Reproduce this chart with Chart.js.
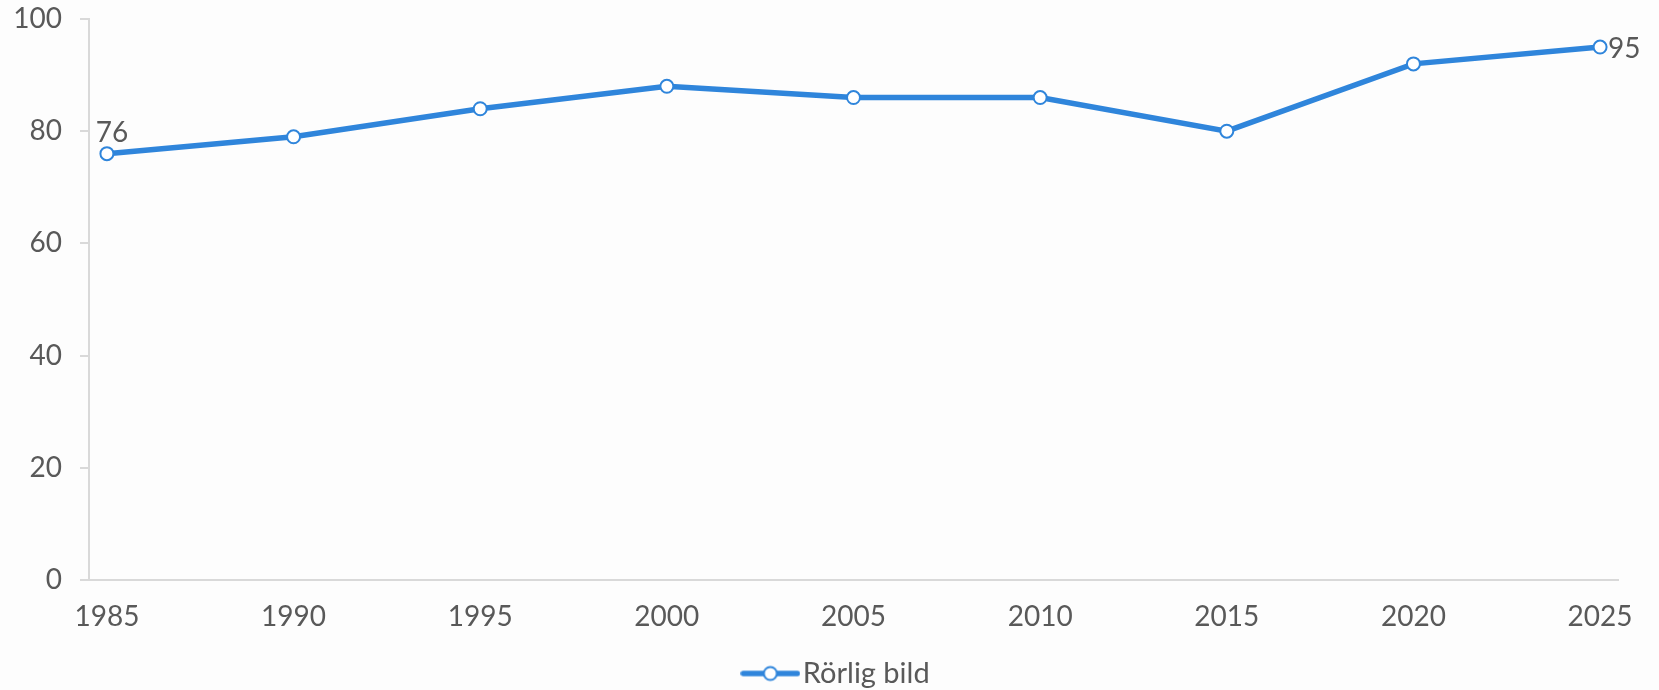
<!DOCTYPE html>
<html>
<head>
<meta charset="utf-8">
<script src="https://cdn.jsdelivr.net/npm/chart.js@4"></script>
<style>
  html, body { margin: 0; padding: 0; background: #fdfdfd; }
  #wrap { width: 1659px; height: 690px; }
</style>
</head>
<body>
<div id="wrap"><canvas id="chart"></canvas></div>
<script>
// Series data
var years = [1985, 1990, 1995, 2000, 2005, 2010, 2015, 2020, 2025];
var rorligBild = [76, 79, 84, 88, 86, 86, 80, 92, 95];
var yTicks = [0, 20, 40, 60, 80, 100];
var seriesName = 'Rörlig bild';

var blue = '#2F85DB';
var textColor = '#595959';
var axisColor = '#d9d9d9';
var fontFamily = 'Lato, "Noto Sans", sans-serif';

// legend swatch: short line with a hollow marker
var swatch = document.createElement('canvas');
swatch.width = 60;
swatch.height = 18;
(function () {
    var c = swatch.getContext('2d');
    c.strokeStyle = blue;
    c.lineWidth = 5.5;
    c.lineCap = 'round';
    c.beginPath();
    c.moveTo(3, 9);
    c.lineTo(57, 9);
    c.stroke();
    c.fillStyle = '#fff';
    c.lineWidth = 2;
    c.beginPath();
    c.arc(30, 9, 6.5, 0, Math.PI * 2);
    c.fill();
    c.stroke();
})();

// value labels on first and last point
var endLabels = {
    id: 'endLabels',
    afterDatasetsDraw: function (chart) {
        var ctx = chart.ctx;
        var pts = chart.getDatasetMeta(0).data;
        var vals = chart.data.datasets[0].data;
        ctx.save();
        ctx.fillStyle = textColor;
        ctx.font = '28px ' + fontFamily;
        var first = pts[0];
        ctx.textAlign = 'center';
        ctx.textBaseline = 'bottom';
        ctx.fillText(vals[0].y, first.x + 5, first.y - 7);
        var last = pts[pts.length - 1];
        ctx.textAlign = 'left';
        ctx.textBaseline = 'middle';
        ctx.fillText(vals[vals.length - 1].y, last.x + 8, last.y + 2);
        ctx.restore();
    }
};

// legend sits centred on the page rather than on the padded box
var legendShift = {
    id: 'legendShift',
    afterLayout: function (chart) {
        chart.legend.left += 32;
        chart.legend.right += 32;
    }
};

var points = years.map(function (yr, i) { return { x: yr, y: rorligBild[i] }; });

new Chart(document.getElementById('chart'), {
    type: 'line',
    data: {
        datasets: [{
            label: seriesName,
            data: points,
            borderColor: blue,
            borderWidth: 5.5,
            backgroundColor: '#fff',
            pointBackgroundColor: '#fff',
            pointBorderColor: blue,
            pointBorderWidth: 2,
            pointRadius: 6.5,
            pointHoverRadius: 6.5,
            tension: 0
        }]
    },
    options: {
        responsive: true,
        maintainAspectRatio: false,
        animation: false,
        layout: { padding: { left: 0, right: 41, top: 19, bottom: 0 } },
        plugins: {
            tooltip: { enabled: false },
            legend: {
                position: 'bottom',
                maxHeight: 33,
                labels: {
                    color: textColor,
                    font: { family: fontFamily, size: 29 },
                    usePointStyle: true,
                    pointStyleWidth: 36,
                    boxHeight: 18,
                    padding: 2,
                    generateLabels: function () {
                        return [{ text: seriesName, pointStyle: swatch, fontColor: textColor, datasetIndex: 0 }];
                    }
                }
            }
        },
        scales: {
            x: {
                type: 'linear',
                min: 1984.52,
                max: 2025.48,
                afterBuildTicks: function (s) {
                    s.ticks = years.map(function (v) { return { value: v }; });
                },
                afterFit: function (s) { s.height = 77; },
                grid: { display: false, drawTicks: false },
                border: { display: true, color: axisColor, width: 2 },
                ticks: {
                    color: textColor,
                    font: { family: fontFamily, size: 28 },
                    padding: 20,
                    maxRotation: 0,
                    autoSkip: false,
                    callback: function (v) { return String(v); }
                }
            },
            y: {
                min: 0,
                max: 100,
                afterBuildTicks: function (s) {
                    s.ticks = yTicks.map(function (v) { return { value: v }; });
                },
                afterFit: function (s) {
                    s.width = 89;
                    s.paddingTop = 0;
                    s.paddingBottom = 0;
                },
                grid: {
                    drawOnChartArea: false,
                    drawTicks: true,
                    tickLength: 9,
                    color: axisColor,
                    lineWidth: 2
                },
                border: { display: true, color: axisColor, width: 2 },
                ticks: {
                    color: textColor,
                    font: { family: fontFamily, size: 28 },
                    padding: 18
                }
            }
        }
    },
    plugins: [endLabels, legendShift]
});
</script>
</body>
</html>
